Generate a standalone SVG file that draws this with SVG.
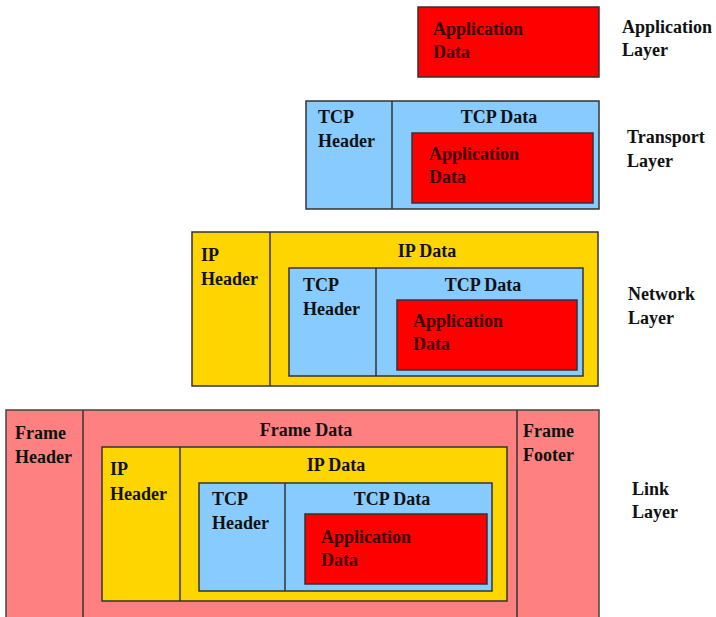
<svg xmlns="http://www.w3.org/2000/svg" width="716" height="617" viewBox="0 0 716 617">
<style>
text{font-family:'Liberation Serif','Times New Roman',serif;font-weight:700;font-size:18px;fill:#111}
.c{text-anchor:middle}
.app{fill:#ff0000;stroke:#333;stroke-width:1.5}
.tcp{fill:#88ccff;stroke:#333;stroke-width:1.5}
.ip{fill:#ffd500;stroke:#333;stroke-width:1.5}
.fr{fill:#ff8080;stroke:#444;stroke-width:1.5}
.d{stroke:#333;stroke-width:1.5}
.at{fill:#3a0000}
</style>
<rect width="716" height="617" fill="#fff"/>
<g id="application-layer">
<rect class="app" x="418" y="7" width="181" height="70"/>
<text class="at" x="433" y="35">Application</text>
<text class="at" x="433" y="58">Data</text>
<text x="622" y="33">Application</text>
<text x="622" y="56">Layer</text>
</g>
<g id="transport-layer">
<rect class="tcp" x="306" y="101" width="293" height="108"/>
<line class="d" x1="392" y1="101" x2="392" y2="209"/>
<text x="318" y="123">TCP</text>
<text x="318" y="147">Header</text>
<text class="c" x="499" y="123">TCP Data</text>
<rect class="app" x="412" y="133" width="181" height="70"/>
<text class="at" x="429" y="160">Application</text>
<text class="at" x="429" y="183">Data</text>
<text x="627" y="143">Transport</text>
<text x="627" y="167">Layer</text>
</g>
<g id="network-layer">
<rect class="ip" x="192" y="232" width="406" height="154"/>
<line class="d" x1="270" y1="232" x2="270" y2="386"/>
<text x="201" y="261">IP</text>
<text x="201" y="285">Header</text>
<text class="c" x="427" y="257">IP Data</text>
<rect class="tcp" x="289" y="268" width="294" height="108"/>
<line class="d" x1="376" y1="268" x2="376" y2="376"/>
<text x="303" y="291">TCP</text>
<text x="303" y="315">Header</text>
<text class="c" x="483" y="291">TCP Data</text>
<rect class="app" x="397" y="300" width="180" height="70"/>
<text class="at" x="413" y="327">Application</text>
<text class="at" x="413" y="350">Data</text>
<text x="628" y="300">Network</text>
<text x="628" y="324">Layer</text>
</g>
<g id="link-layer">
<rect class="fr" x="6" y="410" width="593" height="220"/>
<line class="d" x1="83" y1="410" x2="83" y2="617"/>
<line class="d" x1="517" y1="410" x2="517" y2="617"/>
<text x="15" y="439">Frame</text>
<text x="15" y="463">Header</text>
<text class="c" x="306" y="436">Frame Data</text>
<text x="523" y="437">Frame</text>
<text x="523" y="461">Footer</text>
<rect class="ip" x="102" y="447" width="405" height="154"/>
<line class="d" x1="180" y1="447" x2="180" y2="601"/>
<text x="110" y="475">IP</text>
<text x="110" y="500">Header</text>
<text class="c" x="336" y="471">IP Data</text>
<rect class="tcp" x="199" y="483" width="293" height="108"/>
<line class="d" x1="285" y1="483" x2="285" y2="591"/>
<text x="212" y="505">TCP</text>
<text x="212" y="529">Header</text>
<text class="c" x="392" y="505">TCP Data</text>
<rect class="app" x="305" y="514" width="182" height="70"/>
<text class="at" x="321" y="543">Application</text>
<text class="at" x="321" y="566">Data</text>
<text x="632" y="495">Link</text>
<text x="632" y="518">Layer</text>
</g>
</svg>
